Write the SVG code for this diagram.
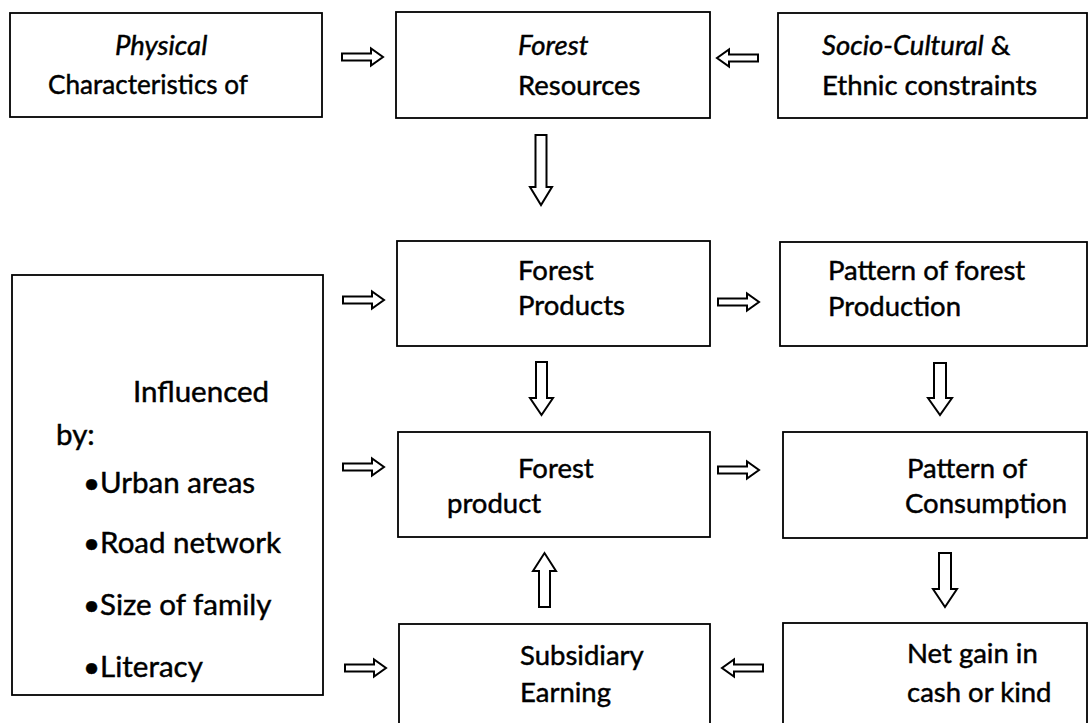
<svg xmlns="http://www.w3.org/2000/svg" width="1089" height="723" viewBox="0 0 1089 723">
<style>
.box{fill:#fff;stroke:#000;stroke-width:1.8}
.t{font-family:Lato,"Liberation Sans",sans-serif;font-size:27.5px;fill:#000;stroke:#000;stroke-width:0.45}
.l{font-size:29.5px}
.i{font-style:italic}
.arr{fill:#fff;stroke:#000;stroke-width:2;stroke-linejoin:miter}
</style>
<defs>
<path id="ar" class="arr" d="M0,-3.5 H29 V-8.5 L41,0 L29,8.5 V3.5 H0 Z"/>
</defs>
<rect width="1089" height="723" fill="#fff"/>
<g id="connectors">
<use href="#ar" transform="translate(342,57)"/>
<use href="#ar" transform="translate(758,58) scale(-1,1)"/>
<path class="arr" d="M535.5,135 H546.5 V187 H552 L541,205 L530,187 H535.5 Z"/>
<use href="#ar" transform="translate(343,300)"/>
<use href="#ar" transform="translate(718,302)"/>
<path class="arr" d="M536,362 H547 V398 H553 L541.5,415 L530,398 H536 Z"/>
<path class="arr" d="M934,363 H946 V398 H952 L940,415 L928,398 H934 Z"/>
<use href="#ar" transform="translate(343,467)"/>
<use href="#ar" transform="translate(718,470)"/>
<path class="arr" d="M539,607 H550 V571 H556 L544.5,553 L533,571 H539 Z"/>
<path class="arr" d="M939,553 H951 V589 H957 L945,607 L933,589 H939 Z"/>
<use href="#ar" transform="translate(345,668)"/>
<use href="#ar" transform="translate(763,668) scale(-1,1)"/>
</g>
<g id="physical">
<rect class="box" x="10" y="13" width="312" height="104"/>
<text class="t" x="115" y="55"><tspan class="i">Physical</tspan></text>
<text class="t" x="48" y="94" textLength="200" lengthAdjust="spacingAndGlyphs">Characteristics of</text>
</g>
<g id="forest-resources">
<rect class="box" x="396" y="12" width="314" height="106"/>
<text class="t i" x="518" y="55">Forest</text>
<text class="t" x="518" y="95">Resources</text>
</g>
<g id="socio-cultural">
<rect class="box" x="778" y="13" width="309" height="105"/>
<text class="t" x="822" y="55"><tspan class="i">Socio-Cultural</tspan> &amp;</text>
<text class="t" x="822" y="95">Ethnic constraints</text>
</g>
<g id="influenced">
<rect class="box" x="12" y="275" width="311" height="420"/>
<text class="t l" x="133" y="402">Influenced</text>
<text class="t l" x="56" y="445">by:</text>
<text class="t l" x="83" y="493">•Urban areas</text>
<text class="t l" x="83" y="553">•Road network</text>
<text class="t l" x="83" y="615">•Size of family</text>
<text class="t l" x="83" y="677">•Literacy</text>
</g>
<g id="forest-products">
<rect class="box" x="397" y="241" width="313" height="105"/>
<text class="t" x="518" y="280">Forest</text>
<text class="t" x="518" y="315">Products</text>
</g>
<g id="pattern-production">
<rect class="box" x="780" y="242" width="307" height="104"/>
<text class="t" x="828" y="280">Pattern of forest</text>
<text class="t" x="828" y="316">Production</text>
</g>
<g id="forest-product">
<rect class="box" x="398" y="432" width="312" height="105"/>
<text class="t" x="518" y="478">Forest</text>
<text class="t" x="447" y="513">product</text>
</g>
<g id="pattern-consumption">
<rect class="box" x="783" y="432" width="304" height="106"/>
<text class="t" x="907" y="478">Pattern of</text>
<text class="t" x="905" y="513">Consumption</text>
</g>
<g id="subsidiary">
<rect class="box" x="399" y="624" width="311" height="120"/>
<text class="t" x="520" y="665">Subsidiary</text>
<text class="t" x="520" y="702">Earning</text>
</g>
<g id="net-gain">
<rect class="box" x="783" y="623" width="304" height="120"/>
<text class="t" x="907" y="663">Net gain in</text>
<text class="t" x="907" y="702">cash or kind</text>
</g>
</svg>
